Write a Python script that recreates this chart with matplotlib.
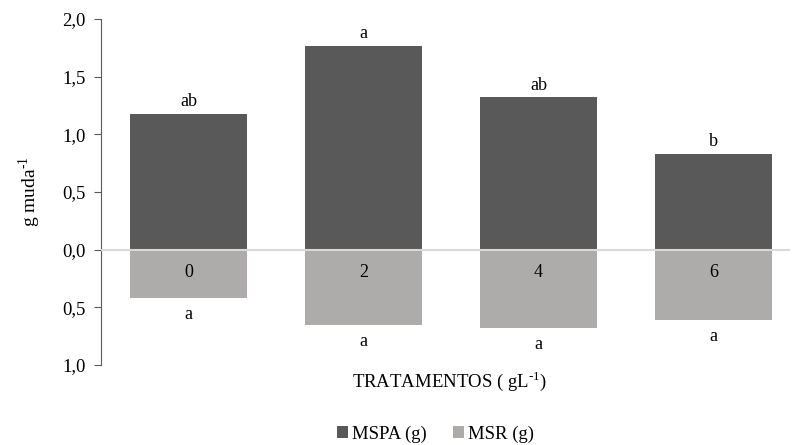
import matplotlib.pyplot as plt
import numpy as np

plt.rcParams['font.family'] = ['Liberation Serif', 'DejaVu Serif']

tratamentos = ["0", "2", "4", "6"]
mspa = [1.18, 1.77, 1.32, 0.83]
msr = [0.42, 0.655, 0.68, 0.61]
letras_mspa = ["ab", "a", "ab", "b"]
letras_msr = ["a", "a", "a", "a"]

fig = plt.figure(figsize=(7.92, 4.45), dpi=100)
ax = fig.add_axes([0.1275, 0.1803, 0.8706, 0.777])

x = np.arange(len(tratamentos))
largura = 0.67
b1 = ax.bar(x, mspa, largura, color="#595959", label="MSPA (g)")
b2 = ax.bar(x, [-v for v in msr], largura, color="#AEABAB", label="MSR (g)")

# linha do zero
ax.axhline(0, color="#D9D9D9", lw=1.5, zorder=3)

for i in range(len(x)):
    ax.text(x[i], mspa[i] + 0.03, letras_mspa[i], ha='center', va='bottom', fontsize=13)
    ax.text(x[i], -msr[i] - 0.07, letras_msr[i], ha='center', va='top', fontsize=13)
    ax.text(x[i], -0.2, tratamentos[i], ha='center', va='center', fontsize=13)

ax.set_xlim(-0.5, 3.44)
ax.set_ylim(-1.0, 2.0)
yt = np.arange(-1.0, 2.01, 0.5)
ax.set_yticks(yt)
ax.set_yticklabels([f"{abs(v):.1f}".replace('.', ',') for v in yt], fontsize=13.5)
ax.set_xticks([])
ax.tick_params(axis='y', direction='out', length=5, color="#595959", pad=6)

for s in ['top', 'right', 'bottom']:
    ax.spines[s].set_visible(False)
ax.spines['left'].set_color("#595959")

ax.set_ylabel("g muda$^{\\mathregular{\u2010}\\mathregular{1}}$", fontsize=14, labelpad=14)
fig.text(0.568, 0.143, "TRATAMENTOS ( gL$^{\\mathregular{\u2010}\\mathregular{1}}$)",
         ha='center', va='center', fontsize=13.5)

fig.legend(handles=[b1, b2], loc='center', bbox_to_anchor=(0.55, 0.025), ncol=2,
           frameon=False, fontsize=13.5, handlelength=0.6, handleheight=0.6,
           handletextpad=0.2, columnspacing=1.4)

plt.savefig("out.png", dpi=100)
